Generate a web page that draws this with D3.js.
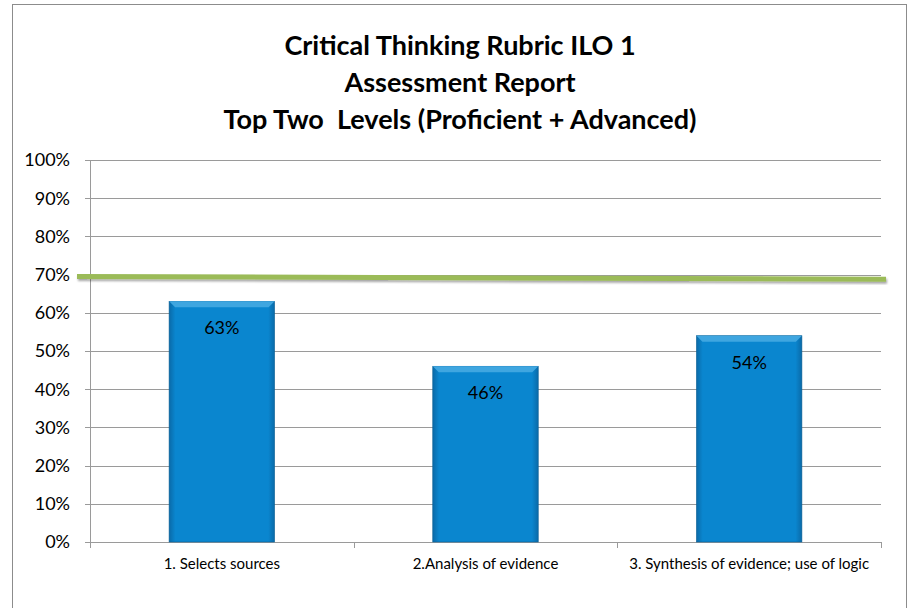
<!DOCTYPE html>
<html>
<head>
<meta charset="utf-8">
<script src="https://cdn.jsdelivr.net/npm/d3@7"></script>
<style>
  body { margin: 0; background: #fff; }
  svg { display: block; font-family: Lato, "Open Sans", sans-serif; }
  .title { white-space: pre; }
</style>
</head>
<body>
<svg id="chart" width="909" height="608"></svg>
<script>
// chart data
const categories = ["1. Selects sources", "2.Analysis of evidence", "3. Synthesis of evidence; use of logic"];
const values = [0.63, 0.46, 0.54];
const valueLabels = ["63%", "46%", "54%"];
const yTicks = [0, 0.1, 0.2, 0.3, 0.4, 0.5, 0.6, 0.7, 0.8, 0.9, 1.0];
const targetLine = [0.695, 0.688];   // hand drawn benchmark, slightly sloped
const titleLines = ["Critical Thinking Rubric ILO 1", "Assessment Report", "Top Two  Levels (Proficient + Advanced)"];

const margin = { top: 160, right: 28, bottom: 66, left: 90 };
const width = 909 - margin.left - margin.right;
const height = 608 - margin.top - margin.bottom;

const svg = d3.select("#chart");

// outer chart border
svg.append("rect")
  .attr("x", 12.5).attr("y", 4.5)
  .attr("width", 894).attr("height", 620)
  .attr("fill", "none").attr("stroke", "#8c8c8c").attr("stroke-width", 1);

const defs = svg.append("defs");
const grad = defs.append("linearGradient").attr("id", "barGrad")
  .attr("x1", "0").attr("x2", "1").attr("y1", "0").attr("y2", "0");
grad.append("stop").attr("offset", "0%").attr("stop-color", "#0a6aa8");
grad.append("stop").attr("offset", "6%").attr("stop-color", "#0a86cf");
grad.append("stop").attr("offset", "94%").attr("stop-color", "#0a86cf");
grad.append("stop").attr("offset", "100%").attr("stop-color", "#0a6aa8");

const shadow = defs.append("filter").attr("id", "shadow")
  .attr("x", "-5%").attr("y", "-200%").attr("width", "110%").attr("height", "500%");
shadow.append("feDropShadow").attr("dx", 1).attr("dy", 2).attr("stdDeviation", 1.2)
  .attr("flood-color", "#000").attr("flood-opacity", 0.35);

// title
svg.append("g").selectAll("text")
  .data(titleLines)
  .join("text")
  .attr("class", "title")
  .attr("x", 460)
  .attr("y", (d, i) => 55 + i * 37)
  .attr("text-anchor", "middle")
  .attr("font-size", 27)
  .attr("font-weight", "bold")
  .attr("fill", "#000")
  .text(d => d);

const g = svg.append("g")
  .attr("transform", "translate(" + margin.left + "," + margin.top + ")");

const x = d3.scaleBand().domain(categories).range([0, width]).padding(0);
const y = d3.scaleLinear().domain([0, 1]).range([height, 0]);

// gridlines
g.append("g").selectAll("line")
  .data(yTicks)
  .join("line")
  .attr("x1", -5).attr("x2", width)
  .attr("y1", d => Math.round(y(d)) + 0.5).attr("y2", d => Math.round(y(d)) + 0.5)
  .attr("stroke", "#9a9a9a").attr("stroke-width", 1);

// y labels
g.append("g").selectAll("text")
  .data(yTicks)
  .join("text")
  .attr("x", -20)
  .attr("y", d => y(d))
  .attr("dy", "0.35em")
  .attr("text-anchor", "end")
  .attr("font-size", 18)
  .attr("fill", "#000")
  .text(d => d3.format(".0%")(d));

// y axis line
g.append("line")
  .attr("x1", 0.5).attr("x2", 0.5).attr("y1", 0).attr("y2", height)
  .attr("stroke", "#9a9a9a");

// x axis ticks at band edges
const edges = categories.map(c => x(c)).concat([width]);
g.append("g").selectAll("line")
  .data(edges)
  .join("line")
  .attr("x1", d => Math.round(d) + 0.5).attr("x2", d => Math.round(d) + 0.5)
  .attr("y1", height).attr("y2", height + 6)
  .attr("stroke", "#9a9a9a");

// bars
const barW = x.bandwidth() * 0.4;
const bars = g.append("g").selectAll("g")
  .data(values)
  .join("g")
  .attr("transform", (d, i) => "translate(" + (x(categories[i]) + (x.bandwidth() - barW) / 2) + ",0)");

bars.append("rect")
  .attr("x", 0).attr("width", barW)
  .attr("y", d => y(d)).attr("height", d => height - y(d))
  .attr("fill", "url(#barGrad)")
  .attr("stroke", "#0b5f94").attr("stroke-width", 0.6);

// top bevel
bars.append("path")
  .attr("d", d => "M0," + y(d) + "L" + barW + "," + y(d) + "L" + (barW - 6) + "," + (y(d) + 6) + "L6," + (y(d) + 6) + "Z")
  .attr("fill", "#3fa6e0");

bars.append("text")
  .attr("x", barW / 2)
  .attr("y", d => y(d) + 33)
  .attr("text-anchor", "middle")
  .attr("font-size", 18)
  .attr("fill", "#000")
  .text((d, i) => valueLabels[i]);

// category labels
g.append("g").selectAll("text")
  .data(categories)
  .join("text")
  .attr("x", d => x(d) + x.bandwidth() / 2)
  .attr("y", height + 27)
  .attr("text-anchor", "middle")
  .attr("font-size", 15)
  .attr("fill", "#000")
  .text(d => d);

// benchmark line
g.append("line")
  .attr("x1", -13).attr("x2", width + 5)
  .attr("y1", y(targetLine[0])).attr("y2", y(targetLine[1]))
  .attr("stroke", "#9bbb59").attr("stroke-width", 5)
  .attr("filter", "url(#shadow)");
</script>
</body>
</html>
